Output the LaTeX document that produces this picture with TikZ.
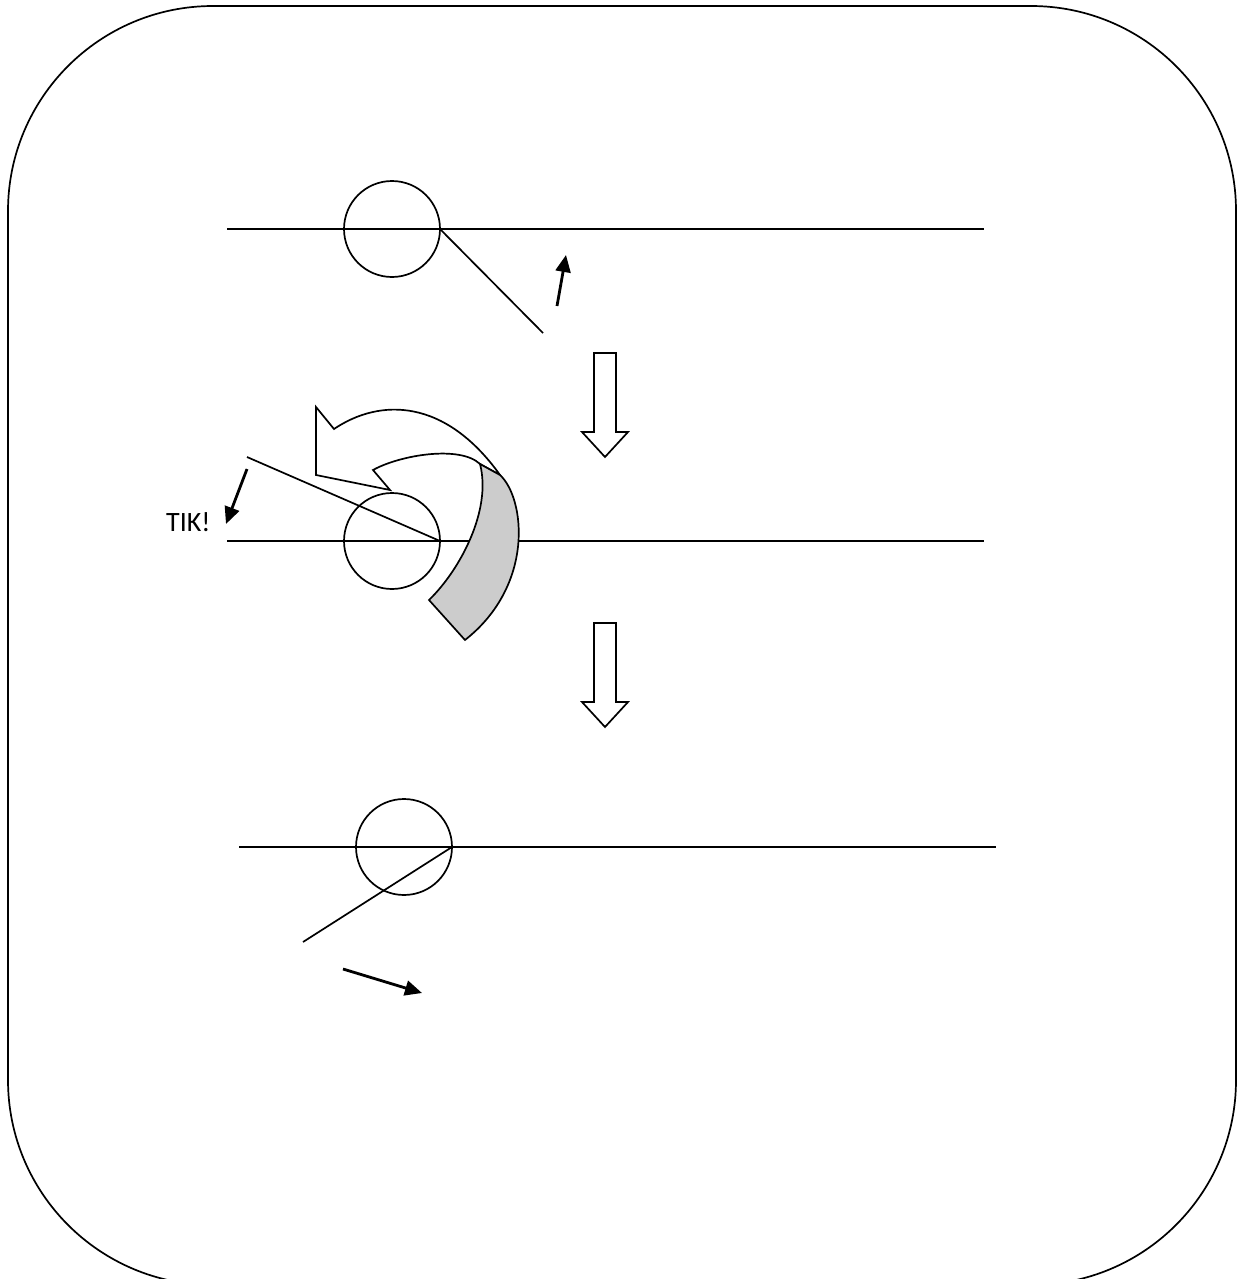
\documentclass[tikz,border=0pt]{standalone}
\usepackage{fontspec}
\setmainfont{Carlito}
\usetikzlibrary{arrows.meta}
\begin{document}
\begin{tikzpicture}[x=1pt,y=-1pt,
  thin line/.style={line width=1.7pt},
  ring/.style={circle,draw,line width=1.7pt,minimum size=96pt,inner sep=0pt},
  smallarrow/.style={line width=2.8pt,-{Triangle[length=17pt,width=15pt]}},
  hollowarrow/.style={draw,line width=1.7pt,fill=white,line join=miter},
  lbl/.style={font=\fontsize{28}{30}\selectfont,inner sep=0pt}]
\useasboundingbox (0,0) rectangle (1242,1279);
% frame
\draw[thin line,rounded corners=205pt] (8,6) rectangle (1236,1285);

% ---- top stage
\coordinate (l1a) at (227,229); \coordinate (l1b) at (984,229);
\node[ring] (c1) at (392,229) {};
\coordinate (p1) at (440,229); \coordinate (q1) at (543,333);
\draw[thin line] (l1a) -- (l1b);
\draw[thin line] (p1) -- (q1);
\coordinate (a1s) at (557,306); \coordinate (a1e) at (566,255);
\draw[smallarrow] (a1s) -- (a1e);

% hollow arrow 1
\draw[hollowarrow] (594,353) -- (616,353) -- (616,432) -- (628,432) -- (605,457) -- (582,432) -- (594,432) -- cycle;

% ---- middle stage
\coordinate (l2a) at (227,541); \coordinate (l2b) at (984,541);
\node[ring] (c2) at (392,541) {};
\coordinate (p2) at (440,541); \coordinate (q2) at (247,457);
\draw[thin line] (l2a) -- (l2b);
\draw[thin line] (p2) -- (q2);
\coordinate (a2s) at (247,469); \coordinate (a2e) at (226,524);
\draw[smallarrow] (a2s) -- (a2e);
\node[lbl,anchor=south west] (tik) at (166,532) {TIK!};

% curved arrow (white face)
\draw[thin line,fill=white,line join=miter]
  (316,407) -- (334,429)
  .. controls (380,398) and (445,398) .. (500,475)
  -- (480,464)
  .. controls (460,445) and (400,455) .. (373,470)
  -- (390,490) -- (316,475) -- cycle;
% shaded side
\draw[thin line,fill=black!20,line join=miter]
  (480,464) -- (500,475)
  .. controls (525,498) and (535,585) .. (465,640)
  -- (429,600)
  .. controls (460,570) and (492,510) .. (480,464)
  -- cycle;

% hollow arrow 2
\draw[hollowarrow] (594,623) -- (616,623) -- (616,702) -- (628,702) -- (605,727) -- (582,702) -- (594,702) -- cycle;

% ---- bottom stage
\coordinate (l3a) at (239,847); \coordinate (l3b) at (996,847);
\node[ring] (c3) at (404,847) {};
\coordinate (p3) at (452,847); \coordinate (q3) at (303,942);
\draw[thin line] (l3a) -- (l3b);
\draw[thin line] (p3) -- (q3);
\coordinate (a3s) at (343,969); \coordinate (a3e) at (422,993);
\draw[smallarrow] (a3s) -- (a3e);
\end{tikzpicture}
\end{document}
